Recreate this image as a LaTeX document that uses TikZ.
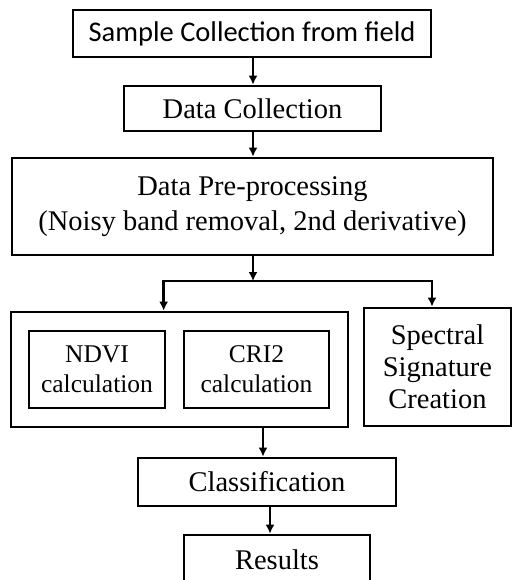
\documentclass[tikz,border=0pt]{standalone}
\usepackage{fontspec}
\setmainfont{Liberation Serif}
\newfontfamily\calfont{Carlito}
\usepackage{xcolor}
\usepackage{tikz}
\usetikzlibrary { arrows.meta,
}

\begin{document}
\begin{tikzpicture}[x = 1pt, y = -1pt,
		box/.style = {draw, line width = 2.7pt, inner sep = 0pt, align = center,
			font = \fontsize{28.5}{32}\selectfont},
		smallbox/.style = {box, font = \fontsize{25.5}{30}\selectfont},
		arr/.style = {line width = 2.4pt, -{Latex[length = 9pt, width = 9pt]}}]
		\useasboundingbox (0,0) rectangle (512,580);

		\node[box, minimum width = 358pt, minimum height = 47pt, font = \calfont\fontsize{28.5}{32}\selectfont] (sample) at (252, 33.5) {Sample Collection from field};
		\node[box, minimum width = 257pt, minimum height = 45pt] (datacol) at (252.5, 108.5) {Data Collection};
		\node[box, minimum width = 481pt, minimum height = 97pt, font = \fontsize{28.5}{35}\selectfont] (preproc) at (252.5, 206.5) {Data Pre-processing\\(Noisy band removal, 2nd derivative)};

		\node[box, minimum width = 337pt, minimum height = 115pt] (indices) at (179.5, 369.5) {};
		\node[smallbox, minimum width = 136pt, minimum height = 77pt] (ndvi) at (97, 369.5) {NDVI\\calculation};
		\node[smallbox, minimum width = 145pt, minimum height = 77pt] (cri) at (256.5, 369.5) {CRI2\\calculation};
		\node[box, minimum width = 147pt, minimum height = 118pt] (spectral) at (437.5, 367) {Spectral\\Signature\\Creation};

		\node[box, minimum width = 258pt, minimum height = 48pt] (classif) at (267, 482) {Classification};
		\node[box, minimum width = 186pt, minimum height = 50pt] (results) at (277, 560) {Results};

		\coordinate (split) at (253, 281);

		\draw[arr] ([xshift = 1pt]sample.south) -- ([xshift = 1pt]sample.south |- datacol.north);
		\draw[arr] ([xshift = 0.5pt]datacol.south) -- ([xshift = 0.5pt]datacol.south |- preproc.north);
		\draw[arr] (preproc.south -| split) -- (split);
		\draw[arr] (split) -| ([xshift = 154pt]indices.north west);
		\draw[arr] (split) -| ([xshift = -5.5pt]spectral.north);
		\draw[arr] ([xshift = 83.5pt]indices.south) -- ([xshift = 83.5pt]indices.south |- classif.north);
		\draw[arr] ([xshift = 3pt]classif.south) -- ([xshift = 3pt]classif.south |- results.north);
	\end{tikzpicture}
\end{document}
